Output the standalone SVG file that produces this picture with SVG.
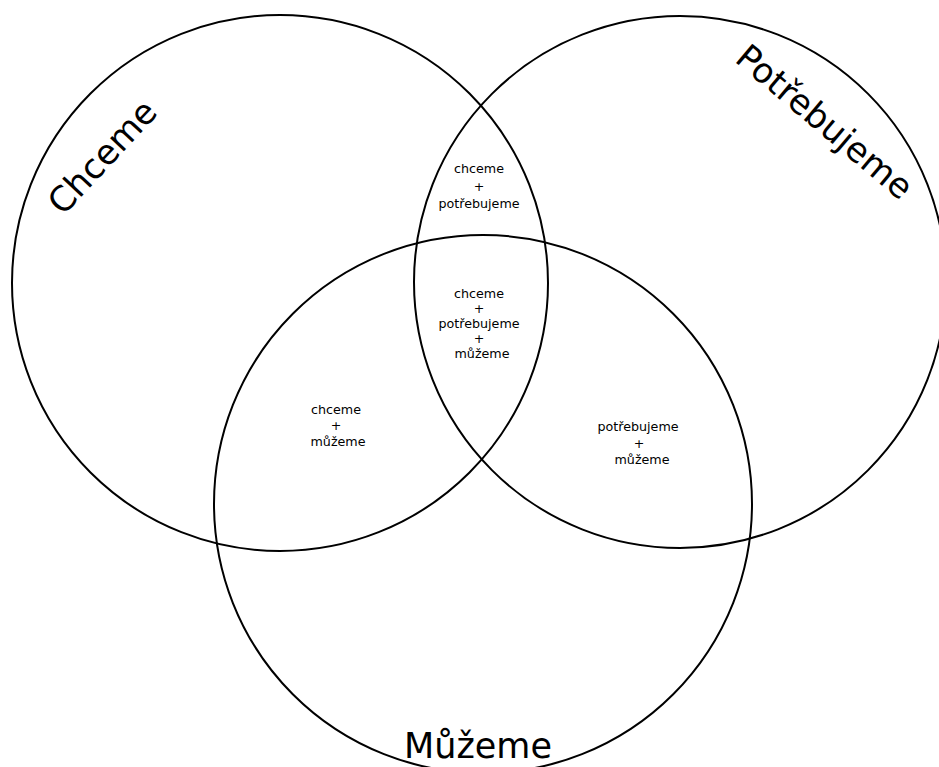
<svg xmlns="http://www.w3.org/2000/svg" width="939" height="767" viewBox="0 0 939 767">
<style>
.c{fill:none;stroke:#000;stroke-width:2}
.t{font-family:"DejaVu Sans",sans-serif;fill:#000}
.big{font-size:34.5px}
.sm{font-size:12.7px;text-anchor:middle}
</style>
<rect width="939" height="767" fill="#fff"/>
<g id="circle-chceme"><circle class="c" cx="280" cy="283" r="268"/></g>
<g id="circle-potrebujeme"><circle class="c" cx="680" cy="282" r="266"/></g>
<g id="circle-muzeme"><circle class="c" cx="483" cy="504" r="269"/></g>
<g id="label-chceme"><text class="t big" text-anchor="middle" transform="translate(111,165) rotate(-47)">Chceme</text></g>
<g id="label-potrebujeme"><text class="t big" text-anchor="middle" transform="translate(817,131) rotate(40)">Potřebujeme</text></g>
<g id="label-muzeme"><text class="t" font-size="35" text-anchor="middle" x="478" y="758">Můžeme</text></g>
<g id="region-cp" class="t sm">
<text x="479" y="173">chceme</text><text x="479" y="190.5">+</text><text x="479" y="208">potřebujeme</text>
</g>
<g id="region-cpm" class="t sm">
<text x="479" y="298">chceme</text><text x="479" y="313">+</text><text x="479" y="328">potřebujeme</text><text x="479" y="343">+</text><text x="482" y="358">můžeme</text>
</g>
<g id="region-cm" class="t sm">
<text x="336" y="413.5">chceme</text><text x="336" y="430">+</text><text x="338" y="446">můžeme</text>
</g>
<g id="region-pm" class="t sm">
<text x="638" y="431">potřebujeme</text><text x="639" y="448">+</text><text x="642" y="464">můžeme</text>
</g>
<g id="connectors"></g>
</svg>
